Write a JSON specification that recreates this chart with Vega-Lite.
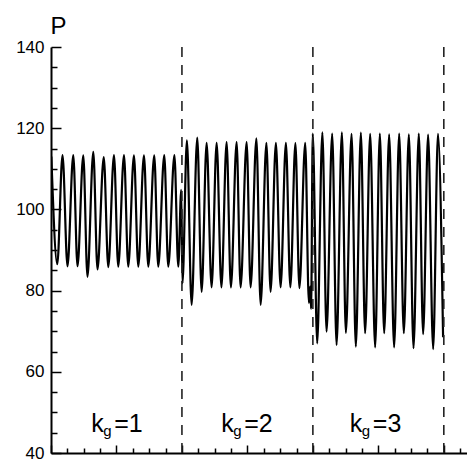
{
  "$schema": "https://vega.github.io/schema/vega-lite/v6.json",
  "width": 419,
  "height": 406,
  "autosize": "none",
  "padding": {"left": 51, "top": 47, "right": 0, "bottom": 9},
  "background": "white",
  "config": {
    "view": {"stroke": null},
    "font": "Liberation Sans",
    "axis": {"grid": false, "domainColor": "black", "domainWidth": 2, "tickColor": "black", "tickWidth": 1.5, "labelColor": "black", "titleColor": "black"}
  },
  "resolve": {"axis": {"x": "independent", "y": "independent"}},
  "datasets": {
    "signal": [
      {"t":0.005,"P":113.0},{"t":0.096,"P":86.5},{"t":0.176,"P":113.4},{"t":0.252,"P":86.0},{"t":0.340,"P":113.4},{"t":0.405,"P":86.0},{"t":0.493,"P":113.3},{"t":0.557,"P":83.4},{"t":0.646,"P":114.2},{"t":0.710,"P":85.2},{"t":0.806,"P":112.9},{"t":0.875,"P":85.8},{"t":0.962,"P":113.4},{"t":1.027,"P":85.9},{"t":1.115,"P":113.4},{"t":1.180,"P":85.9},{"t":1.267,"P":113.3},{"t":1.333,"P":85.9},{"t":1.420,"P":113.3},{"t":1.486,"P":85.9},{"t":1.577,"P":113.3},{"t":1.638,"P":85.9},{"t":1.730,"P":113.4},{"t":1.791,"P":85.9},{"t":1.885,"P":113.4},{"t":1.944,"P":85.9},{"t":1.989,"P":104.8},{"t":2.008,"P":81.8},{"t":2.076,"P":117.0},{"t":2.148,"P":76.5},{"t":2.234,"P":117.7},{"t":2.301,"P":79.7},{"t":2.377,"P":116.4},{"t":2.453,"P":80.8},{"t":2.530,"P":116.4},{"t":2.603,"P":80.8},{"t":2.682,"P":116.6},{"t":2.748,"P":80.8},{"t":2.835,"P":116.6},{"t":2.896,"P":80.8},{"t":2.988,"P":116.6},{"t":3.049,"P":80.8},{"t":3.137,"P":117.5},{"t":3.202,"P":76.5},{"t":3.290,"P":116.4},{"t":3.354,"P":79.7},{"t":3.435,"P":116.4},{"t":3.507,"P":80.8},{"t":3.588,"P":116.4},{"t":3.656,"P":80.8},{"t":3.733,"P":116.3},{"t":3.794,"P":80.6},{"t":3.883,"P":116.4},{"t":3.939,"P":77.0},{"t":3.959,"P":81.0},{"t":3.973,"P":75.5},{"t":3.998,"P":118.7},{"t":4.066,"P":67.0},{"t":4.145,"P":119.0},{"t":4.209,"P":69.9},{"t":4.295,"P":118.7},{"t":4.362,"P":66.6},{"t":4.443,"P":119.0},{"t":4.504,"P":69.6},{"t":4.591,"P":118.6},{"t":4.656,"P":66.2},{"t":4.733,"P":118.9},{"t":4.798,"P":69.5},{"t":4.875,"P":118.6},{"t":4.951,"P":66.0},{"t":5.023,"P":118.7},{"t":5.089,"P":69.5},{"t":5.165,"P":118.5},{"t":5.241,"P":66.0},{"t":5.318,"P":118.7},{"t":5.389,"P":69.5},{"t":5.466,"P":118.5},{"t":5.537,"P":65.8},{"t":5.618,"P":118.7},{"t":5.684,"P":69.3},{"t":5.760,"P":118.4},{"t":5.837,"P":65.6},{"t":5.911,"P":118.6},{"t":5.989,"P":68.5}
    ],
    "dividers": [{"t": 2}, {"t": 4}, {"t": 6}],
    "labels": [
      {"t": 0.615, "P": 45.2, "eq": "=1"},
      {"t": 2.600, "P": 45.2, "eq": "=2"},
      {"t": 4.565, "P": 45.2, "eq": "=3"}
    ]
  },
  "layer": [
    {
      "data": {"name": "signal"},
      "mark": {"type": "line", "interpolate": "monotone", "color": "black", "strokeWidth": 2.2, "clip": true},
      "encoding": {
        "x": {
          "field": "t", "type": "quantitative",
          "scale": {"domain": [0, 6.4], "nice": false, "zero": false},
          "axis": {
            "orient": "bottom", "title": null, "labels": false,
            "values": [0,1,2,3,4,5,6],
            "tickSize": -8
          }
        },
        "y": {
          "field": "P", "type": "quantitative",
          "scale": {"domain": [40, 140], "nice": false, "zero": false},
          "axis": {
            "orient": "left",
            "title": "P", "titleAngle": 0, "titleX": -1, "titleY": -14, "titleAlign": "left", "titleBaseline": "alphabetic",
            "titleFontSize": 24, "titleFontWeight": "normal", "titleFont": "Liberation Sans",
            "values": [40,60,80,100,120,140],
            "labelFontSize": 17, "labelFont": "Liberation Sans", "labelPadding": 17,
            "tickSize": -10
          }
        }
      }
    },
    {
      "data": {"name": "dividers"},
      "mark": {"type": "rule", "strokeDash": [10, 8], "strokeWidth": 1.6, "color": "#222222"},
      "encoding": {"x": {"field": "t", "type": "quantitative", "axis": null}}
    },
    {
      "data": {"name": "labels"},
      "mark": {"type": "text", "text": "k", "align": "left", "baseline": "alphabetic", "fontSize": 25, "font": "Liberation Sans", "color": "black"},
      "encoding": {
        "x": {"field": "t", "type": "quantitative",
          "axis": {"orient": "bottom", "title": null, "labels": false, "domain": false, "tickSize": -5,
            "values": [0.25,0.5,0.75,1.25,1.5,1.75,2.25,2.5,2.75,3.25,3.5,3.75,4.25,4.5,4.75,5.25,5.5,5.75,6.25]}},
        "y": {"field": "P", "type": "quantitative",
          "axis": {"orient": "left", "title": null, "labels": false, "domain": false, "tickSize": -6,
            "values": [45,50,55,65,70,75,85,90,95,105,110,115,125,130,135]}}
      }
    },
    {
      "data": {"name": "labels"},
      "mark": {"type": "text", "text": "g", "align": "left", "baseline": "alphabetic", "fontSize": 15, "font": "Liberation Sans", "color": "black", "dx": 12, "dy": 4},
      "encoding": {"x": {"field": "t", "type": "quantitative", "axis": null}, "y": {"field": "P", "type": "quantitative", "axis": null}}
    },
    {
      "data": {"name": "labels"},
      "mark": {"type": "text", "align": "left", "baseline": "alphabetic", "fontSize": 25, "font": "Liberation Sans", "color": "black", "dx": 23},
      "encoding": {"x": {"field": "t", "type": "quantitative", "axis": null}, "y": {"field": "P", "type": "quantitative", "axis": null}, "text": {"field": "eq"}}
    }
  ]
}
